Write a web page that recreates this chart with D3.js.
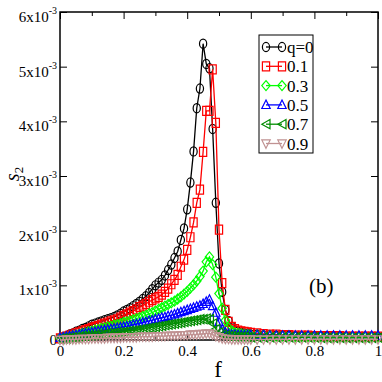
<!DOCTYPE html>
<html>
<head>
<meta charset="utf-8">
<script src="https://d3js.org/d3.v7.min.js"></script>
<style>
  body { margin: 0; background: #fff; }
  svg text { font-family: "Liberation Serif", "DejaVu Serif", serif; fill: #000; }
</style>
</head>
<body>
<svg id="chart" width="382" height="382"></svg>
<script>
// f grid (x values)
const f = [0.00,0.01,0.02,0.03,0.04,0.05,0.06,0.07,0.08,0.09,
  0.10,0.11,0.12,0.13,0.14,0.15,0.16,0.17,0.18,0.19,
  0.20,0.21,0.22,0.23,0.24,0.25,0.26,0.27,0.28,0.29,
  0.30,0.31,0.32,0.33,0.34,0.35,0.36,0.37,0.38,0.39,
  0.40,0.41,0.42,0.43,0.44,0.45,0.46,0.47,0.48,0.49,
  0.50,0.51,0.52,0.53,0.54,0.55,0.56,0.57,0.58,0.59,
  0.60,0.62,0.64,0.66,0.68,0.70,0.72,0.74,0.76,0.78,
  0.80,0.82,0.84,0.86,0.88,0.90,0.92,0.94,0.96,0.98,1.00];

// s2 values in units of 1e-3, one array per q
const q0 = [0.03,0.05,0.07,0.10,0.12,0.15,0.17,0.20,0.22,0.25,
  0.28,0.30,0.32,0.34,0.36,0.38,0.40,0.42,0.45,0.48,
  0.52,0.55,0.58,0.62,0.66,0.70,0.75,0.80,0.86,0.93,
  1.00,1.05,1.10,1.18,1.28,1.38,1.50,1.62,1.83,2.04,
  2.39,2.88,3.45,4.24,4.60,5.42,5.05,4.97,3.86,2.51,
  1.40,0.88,0.55,0.35,0.24,0.18,0.15,0.13,0.12,0.11,
  0.10,0.10,0.09,0.09,0.08,0.08,0.08,0.07,0.07,0.07,
  0.07,0.06,0.06,0.06,0.06,0.06,0.06,0.06,0.06,0.06,0.06];
const q1 = [0.03,0.05,0.06,0.08,0.10,0.12,0.14,0.16,0.18,0.20,
  0.22,0.24,0.26,0.28,0.30,0.32,0.34,0.36,0.38,0.41,
  0.44,0.47,0.50,0.53,0.56,0.60,0.63,0.66,0.70,0.73,
  0.76,0.79,0.83,0.88,0.94,1.02,1.10,1.19,1.34,1.47,
  1.65,1.88,2.15,2.51,2.75,3.44,4.19,4.19,4.95,3.97,
  2.02,1.04,0.55,0.33,0.24,0.20,0.17,0.16,0.15,0.14,
  0.13,0.12,0.11,0.10,0.10,0.09,0.09,0.08,0.08,0.08,
  0.07,0.07,0.07,0.07,0.07,0.06,0.06,0.06,0.06,0.06,0.06];
const q3 = [0.03,0.04,0.05,0.06,0.08,0.09,0.10,0.12,0.13,0.15,
  0.16,0.18,0.19,0.21,0.22,0.24,0.25,0.27,0.28,0.30,
  0.32,0.33,0.35,0.37,0.39,0.41,0.43,0.45,0.48,0.50,
  0.53,0.56,0.59,0.62,0.65,0.68,0.71,0.75,0.79,0.84,
  0.89,0.95,1.01,1.08,1.16,1.26,1.43,1.52,1.38,1.15,
  0.85,0.58,0.36,0.22,0.16,0.13,0.12,0.11,0.10,0.10,
  0.09,0.09,0.08,0.08,0.07,0.07,0.07,0.06,0.06,0.06,
  0.06,0.06,0.05,0.05,0.05,0.05,0.05,0.05,0.05,0.05,0.05];
const q5 = [0.04,0.05,0.06,0.07,0.08,0.09,0.10,0.11,0.12,0.13,
  0.14,0.15,0.16,0.17,0.18,0.19,0.20,0.21,0.22,0.23,
  0.24,0.25,0.26,0.28,0.29,0.30,0.32,0.33,0.35,0.36,
  0.38,0.39,0.41,0.42,0.44,0.45,0.47,0.49,0.51,0.53,
  0.55,0.57,0.59,0.61,0.63,0.66,0.70,0.74,0.62,0.50,
  0.33,0.20,0.14,0.11,0.10,0.10,0.09,0.09,0.09,0.09,
  0.09,0.09,0.09,0.08,0.08,0.08,0.08,0.08,0.08,0.08,
  0.08,0.08,0.08,0.08,0.08,0.08,0.08,0.08,0.08,0.08,0.08];
const q7 = [0.02,0.03,0.03,0.04,0.05,0.05,0.06,0.07,0.07,0.08,
  0.08,0.09,0.10,0.10,0.11,0.12,0.12,0.13,0.14,0.14,
  0.15,0.16,0.17,0.17,0.18,0.19,0.20,0.21,0.22,0.23,
  0.24,0.25,0.26,0.27,0.28,0.29,0.30,0.31,0.32,0.33,
  0.34,0.35,0.36,0.37,0.38,0.38,0.39,0.38,0.30,0.20,
  0.14,0.10,0.08,0.07,0.07,0.06,0.06,0.06,0.06,0.05,
  0.05,0.05,0.05,0.05,0.05,0.05,0.05,0.05,0.05,0.05,
  0.05,0.04,0.04,0.04,0.04,0.04,0.04,0.04,0.04,0.04,0.04];
const q9 = [0.00,0.00,0.01,0.01,0.01,0.01,0.02,0.02,0.02,0.02,
  0.03,0.03,0.03,0.03,0.03,0.04,0.04,0.04,0.04,0.04,
  0.05,0.05,0.05,0.05,0.05,0.06,0.06,0.06,0.06,0.06,
  0.07,0.07,0.07,0.07,0.08,0.08,0.08,0.08,0.09,0.09,
  0.09,0.10,0.10,0.10,0.11,0.11,0.12,0.12,0.10,0.07,
  0.05,0.03,0.02,0.02,0.01,0.01,0.01,0.01,0.01,0.01,
  0.01,0.01,0.01,0.01,0.01,0.01,0.01,0.01,0.01,0.01,
  0.01,0.01,0.01,0.01,0.01,0.01,0.01,0.01,0.01,0.01,0.01];

const labels = ["q=0","0.1","0.3","0.5","0.7","0.9"];
const colors = ["#000000","#ff0000","#00ff00","#0000ff","#008c00","#c09292"];
const shapes = ["circle","square","diamond","triUp","triLeft","triDown"];
const xTicks = [0,0.2,0.4,0.6,0.8,1];
const xMinor = [0.1,0.3,0.5,0.7,0.9];
const yTicks = [0,1,2,3,4,5,6];
const yTickLabels = ["0","1x10","2x10","3x10","4x10","5x10","6x10"];

const series = [q0,q1,q3,q5,q7,q9];

const svg = d3.select("#chart");
const pLeft = 60, pRight = 378, pTop = 12, pBottom = 340;

const x = d3.scaleLinear().domain([0,1]).range([pLeft,pRight]);
const y = d3.scaleLinear().domain([0,6]).range([pBottom,pTop]);

// marker shapes, open
function markerPath(s){
  if(s==="circle") return "M-3.6,0a3.6,4.6 0 1,0 7.2,0a3.6,4.6 0 1,0 -7.2,0";
  if(s==="square") return "M-3.6,-4.5h7.2v9h-7.2z";
  if(s==="diamond") return "M0,-5L4.2,0L0,5L-4.2,0Z";
  if(s==="triUp") return "M0,-4.8L4.2,3.6L-4.2,3.6Z";
  if(s==="triLeft") return "M-4.2,0L4,-4.6L4,4.6Z";
  return "M0,4.8L4.2,-3.6L-4.2,-3.6Z";
}

// axes with inward ticks
svg.append("g").attr("transform","translate(0,"+pBottom+")")
  .call(d3.axisBottom(x).tickValues(xTicks).tickSizeInner(-7).tickSizeOuter(0).tickPadding(5)
    .tickFormat(d=>d===0||d===1?d3.format("d")(d):d3.format(".1f")(d)))
  .call(g=>g.select(".domain").remove())
  .call(g=>g.selectAll("text").attr("font-size",15).attr("font-family","Liberation Serif"));
svg.append("g").attr("transform","translate(0,"+pBottom+")")
  .call(d3.axisBottom(x).tickValues(xMinor).tickSizeInner(-4).tickSizeOuter(0).tickFormat(""))
  .call(g=>g.select(".domain").remove());
svg.append("g").attr("transform","translate(0,"+pTop+")")
  .call(d3.axisTop(x).tickValues(xTicks).tickSizeInner(-7).tickSizeOuter(0).tickFormat(""))
  .call(g=>g.select(".domain").remove());
svg.append("g").attr("transform","translate(0,"+pTop+")")
  .call(d3.axisTop(x).tickValues(xMinor).tickSizeInner(-4).tickSizeOuter(0).tickFormat(""))
  .call(g=>g.select(".domain").remove());
svg.append("g").attr("transform","translate("+pLeft+",0)")
  .call(d3.axisLeft(y).tickValues(yTicks).tickSizeInner(-7).tickSizeOuter(0).tickFormat(""))
  .call(g=>g.select(".domain").remove());
svg.append("g").attr("transform","translate("+pRight+",0)")
  .call(d3.axisRight(y).tickValues(yTicks).tickSizeInner(-7).tickSizeOuter(0).tickFormat(""))
  .call(g=>g.select(".domain").remove());

// y tick labels with superscripts
yTicks.forEach((v,i)=>{
  const t = svg.append("text").attr("x",57).attr("text-anchor","end").attr("font-size",15);
  if(v===0){
    t.attr("y",y(v)+5).text(yTickLabels[i]);
  } else {
    t.attr("y",y(v)+10);
    t.append("tspan").text(yTickLabels[i]);
    t.append("tspan").attr("dy",-8).attr("font-size",10).text("-3");
  }
});

// frame
svg.append("rect").attr("x",pLeft).attr("y",pTop).attr("width",pRight-pLeft).attr("height",pBottom-pTop)
  .attr("fill","none").attr("stroke","#000").attr("stroke-width",1.5);

// curves
const line = d3.line().x((d,i)=>x(f[i])).y(d=>y(d));
series.forEach((s,k)=>{
  const g = svg.append("g");
  g.append("path").datum(s).attr("d",line).attr("fill","none")
    .attr("stroke",colors[k]).attr("stroke-width",1.3);
  g.selectAll("path.m").data(s).enter().append("path").attr("class","m")
    .attr("transform",(d,i)=>"translate("+x(f[i])+","+y(d)+")")
    .attr("d",markerPath(shapes[k]))
    .attr("fill","none").attr("stroke",colors[k]).attr("stroke-width",1.2);
});

// legend
const lx = 259, ly = 35, lw = 54, lh = 118;
svg.append("rect").attr("x",lx).attr("y",ly).attr("width",lw).attr("height",lh)
  .attr("fill","#fff").attr("stroke","#000").attr("stroke-width",1);
labels.forEach((lab,k)=>{
  const yy = 47 + k*19.3;
  svg.append("line").attr("x1",266).attr("x2",282).attr("y1",yy).attr("y2",yy)
    .attr("stroke",colors[k]).attr("stroke-width",1.3);
  [266,282].forEach(px=>{
    svg.append("path").attr("transform","translate("+px+","+yy+")")
      .attr("d",markerPath(shapes[k])).attr("fill","none")
      .attr("stroke",colors[k]).attr("stroke-width",1.2);
  });
  svg.append("text").attr("x",287).attr("y",yy+6).attr("font-size",17).text(lab);
});

// annotations
svg.append("text").attr("x",309).attr("y",293).attr("font-size",21).text("(b)");
svg.append("text").attr("x",218).attr("y",377).attr("text-anchor","middle").attr("font-size",23).text("f");
const yl = svg.append("text").attr("transform","translate(19,174) rotate(-90)")
  .attr("text-anchor","middle").attr("font-size",20);
yl.append("tspan").attr("font-style","italic").text("s");
yl.append("tspan").attr("dy",4).attr("font-size",13).text("2");
</script>
</body>
</html>
